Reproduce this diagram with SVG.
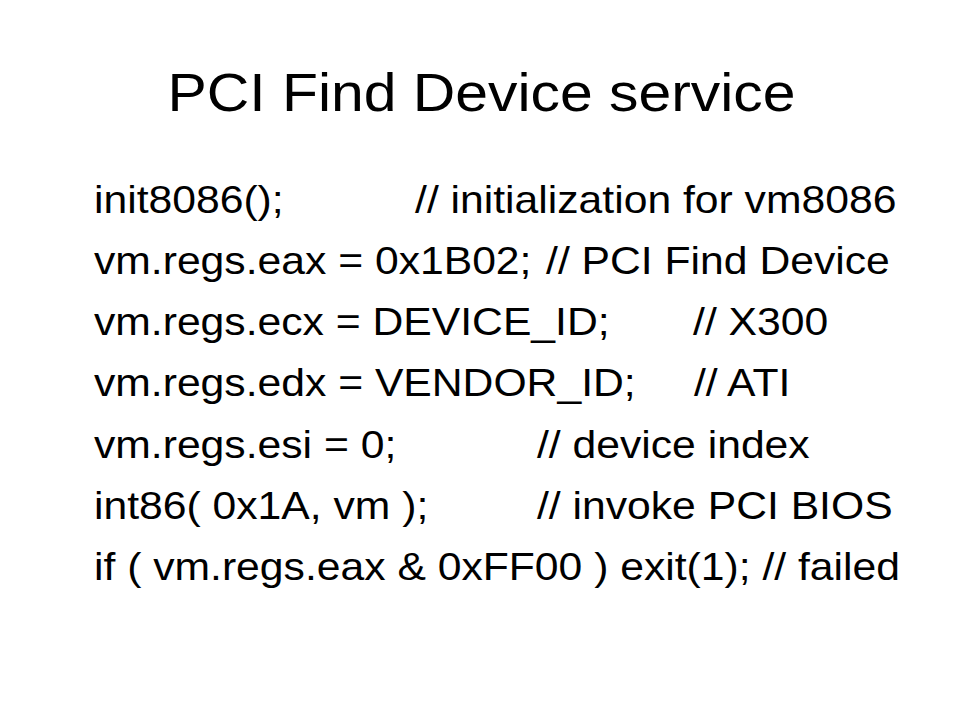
<svg xmlns="http://www.w3.org/2000/svg" width="960" height="720" viewBox="0 0 960 720">
<style>
text { font-family: "Liberation Sans", Arial, sans-serif; fill: #000; }
.title { font-size: 54.5px; }
.body { font-size: 39.5px; }
</style>
<rect width="960" height="720" fill="#fff"/>
<g transform="scale(1.08,1)">
<g id="title">
<text class="title" x="445.8" y="111" text-anchor="middle">PCI Find Device service</text>
</g>
<g id="code">
<text class="body" x="87" y="213">init8086();</text>
<text class="body" x="384.3" y="213">// initialization for vm8086</text>
<text class="body" x="87" y="274">vm.regs.eax = 0x1B02;</text>
<text class="body" x="505.6" y="274">// PCI Find Device</text>
<text class="body" x="87" y="335">vm.regs.ecx = DEVICE_ID;</text>
<text class="body" x="641.7" y="335">// X300</text>
<text class="body" x="87" y="396">vm.regs.edx = VENDOR_ID;</text>
<text class="body" x="642.5" y="396">// ATI</text>
<text class="body" x="87" y="458">vm.regs.esi = 0;</text>
<text class="body" x="497.2" y="458">// device index</text>
<text class="body" x="87" y="519">int86( 0x1A, vm );</text>
<text class="body" x="497.2" y="519">// invoke PCI BIOS</text>
<text class="body" x="87" y="580">if ( vm.regs.eax &amp; 0xFF00 ) exit(1); // failed</text>
</g>
</g>
</svg>
